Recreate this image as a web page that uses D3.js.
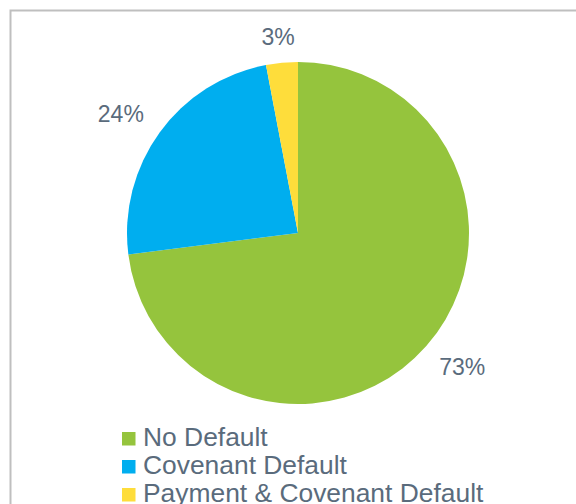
<!DOCTYPE html>
<html>
<head>
<meta charset="utf-8">
<script src="https://cdn.jsdelivr.net/npm/d3@7"></script>
<style>
  html, body { margin: 0; padding: 0; background: #fff; }
  svg { display: block; }
</style>
</head>
<body>
<svg id="chart" width="576" height="504"></svg>
<script>
// Loan outcome shares
const categories = ["No Default", "Covenant Default", "Payment & Covenant Default"];
const values = [73, 24, 3];
const labels = ["73%", "24%", "3%"];
const colors = ["#95C43D", "#00AEEF", "#FEDD3B"];

const W = 576, H = 504;
const cx = 298, cy = 233, R = 171;
const plotTop = 29;
const textColor = "#5A6B7C";
const font = "'Liberation Sans', Arial, Helvetica, sans-serif";

const svg = d3.select("#chart");

// Chart frame (runs off the right and bottom of the view)
svg.append("rect")
  .attr("x", 10.5).attr("y", 10.5)
  .attr("width", W).attr("height", H)
  .attr("fill", "#fff")
  .attr("stroke", "#BFBFBF")
  .attr("stroke-width", 2);

const color = d3.scaleOrdinal().domain(categories).range(colors);

const pie = d3.pie().sort(null).value(d => d.value);
const data = categories.map((c, i) => ({ name: c, value: values[i], label: labels[i] }));
const arcs = pie(data);

const arc = d3.arc().innerRadius(0).outerRadius(R);

const g = svg.append("g").attr("transform", `translate(${cx},${cy})`);

g.selectAll("path.slice")
  .data(arcs)
  .join("path")
  .attr("class", "slice")
  .attr("d", arc)
  .attr("fill", d => color(d.data.name));

// Outside-end percentage labels, kept inside the plot area
const labelSize = 23;
const capHalf = labelSize * 0.716 / 2;
const gap = 25;
g.selectAll("text.pct")
  .data(arcs)
  .join("text")
  .attr("class", "pct")
  .attr("font-family", font)
  .attr("font-size", labelSize)
  .attr("fill", textColor)
  .attr("text-anchor", "middle")
  .text(d => d.data.label)
  .each(function(d) {
    const a = (d.startAngle + d.endAngle) / 2;
    const w = this.getComputedTextLength();
    const rr = R + gap;
    const x = rr * Math.sin(a) + Math.sin(a) * w / 2;
    let y = -rr * Math.cos(a) - Math.cos(a) * 6.5;
    y = Math.max(y, plotTop - cy + capHalf);
    d3.select(this)
      .attr("x", x)
      .attr("y", y + capHalf);
  });

// Legend
const legend = svg.append("g").attr("transform", "translate(122,0)");
const rowY = d3.scalePoint().domain(categories).range([446, 502]);

const item = legend.selectAll("g.item")
  .data(categories)
  .join("g")
  .attr("class", "item")
  .attr("transform", d => `translate(0,${rowY(d)})`);

item.append("rect")
  .attr("x", 0).attr("y", -14)
  .attr("width", 13.5).attr("height", 13.5)
  .attr("fill", d => color(d));

item.append("text")
  .attr("x", 21).attr("y", 0)
  .attr("font-family", font)
  .attr("font-size", 26.4)
  .attr("fill", textColor)
  .text(d => d);
</script>
</body>
</html>
